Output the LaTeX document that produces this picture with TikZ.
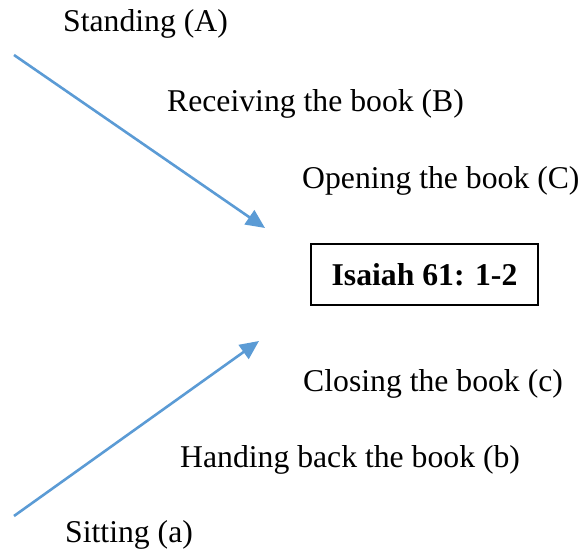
\documentclass[tikz,border=0pt]{standalone}
\usepackage{fontspec}
\setmainfont{Liberation Serif}
\usetikzlibrary{arrows.meta}
\definecolor{arrowblue}{RGB}{91,155,213}
\begin{document}
\begin{tikzpicture}[x=1pt,y=-1pt,
  label/.style={anchor=base west,inner sep=0pt,font=\fontsize{31.7}{36}\selectfont},
  passage/.style={draw,line width=2pt,inner sep=0pt,minimum width=227pt,minimum height=61pt,
    font=\fontsize{31.7}{36}\selectfont\bfseries},
  flow/.style={draw=arrowblue,line width=2.6pt,
    -{Triangle[length=19pt,width=17pt]}}]
  \useasboundingbox (0,0) rectangle (585,556);

  % step labels
  \node[label] (standing) at (63,32) {Standing (A)};
  \node[label] (receiving) at (167,112) {Receiving the book (B)};
  \node[label] (opening) at (302,188) {Opening the book (C)};
  \node[label] (closing) at (303,391) {Closing the book (c)};
  \node[label] (handing) at (180,467) {Handing back the book (b)};
  \node[label] (sitting) at (65,542) {Sitting (a)};

  % central passage
  \node[passage] (isaiah) at (424.5,274.5) {Isaiah 61: 1-2};

  % arrows pointing toward the passage
  \coordinate (topstart) at (14,55);
  \coordinate (topend) at (265,228);
  \coordinate (botstart) at (14,516);
  \coordinate (botend) at (259,341);
  \draw[flow] (topstart) -- (topend);
  \draw[flow] (botstart) -- (botend);
\end{tikzpicture}
\end{document}
